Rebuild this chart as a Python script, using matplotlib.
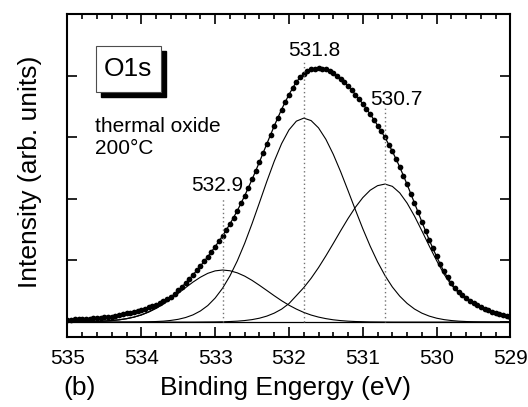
import matplotlib
matplotlib.use('Agg')
import matplotlib.pyplot as plt
import numpy as np
from matplotlib.patches import Rectangle
from matplotlib.ticker import MultipleLocator, FormatStrFormatter

plt.rcParams['font.family'] = ['Liberation Sans', 'DejaVu Sans']

# binding energy grid of the fitted components (535 -> 529 eV, 0.1 eV step)
energy_fit = np.linspace(535.0, 529.0, 61)

comp_5329 = [0.004, 0.005, 0.007, 0.009, 0.012, 0.017, 0.025, 0.037, 0.055, 0.080,
             0.115, 0.162, 0.221, 0.293, 0.376, 0.466, 0.559, 0.649, 0.728, 0.791,
             0.831, 0.845, 0.833, 0.799, 0.746, 0.677, 0.597, 0.513, 0.428, 0.347,
             0.274, 0.211, 0.157, 0.114, 0.081, 0.056, 0.037, 0.024, 0.015, 0.009,
             0.006, 0.003, 0.002, 0.001, 0, 0, 0, 0, 0, 0,
             0, 0, 0, 0, 0, 0, 0, 0, 0, 0, 0]

comp_5318 = [0, 0, 0, 0, 0, 0, 0, 0, 0, 0.001,
             0.002, 0.005, 0.009, 0.015, 0.027, 0.045, 0.074, 0.117, 0.180, 0.268,
             0.390, 0.548, 0.749, 0.993, 1.278, 1.598, 1.938, 2.283, 2.609, 2.896,
             3.119, 3.261, 3.310, 3.270, 3.152, 2.966, 2.723, 2.440, 2.133, 1.820,
             1.515, 1.232, 0.977, 0.756, 0.570, 0.421, 0.303, 0.212, 0.145, 0.097,
             0.063, 0.040, 0.025, 0.015, 0.009, 0.005, 0.003, 0.002, 0.001, 0.001, 0]

comp_5307 = [0, 0, 0, 0, 0, 0, 0, 0, 0, 0,
             0, 0, 0, 0, 0, 0, 0, 0, 0.001, 0.002,
             0.003, 0.005, 0.009, 0.015, 0.025, 0.040, 0.063, 0.097, 0.145, 0.210,
             0.300, 0.429, 0.559, 0.711, 0.884, 1.075, 1.276, 1.482, 1.681, 1.864,
             2.020, 2.140, 2.214, 2.240, 2.203, 2.097, 1.931, 1.720, 1.481, 1.234,
             0.997, 0.777, 0.600, 0.470, 0.380, 0.300, 0.240, 0.180, 0.130, 0.100, 0.070]

# measured spectrum (535 -> 529 eV, 0.05 eV step)
energy_data = np.linspace(535.0, 529.0, 121)
intensity = [0.04, 0.04, 0.045, 0.045, 0.05, 0.05, 0.055, 0.06, 0.065, 0.07,
             0.075, 0.08, 0.09, 0.10, 0.11, 0.125, 0.14, 0.155, 0.17, 0.185,
             0.20, 0.22, 0.24, 0.26, 0.285, 0.31, 0.34, 0.375, 0.41, 0.46,
             0.515, 0.575, 0.64, 0.70, 0.77, 0.84, 0.91, 0.985, 1.06, 1.14,
             1.225, 1.31, 1.40, 1.49, 1.59, 1.695, 1.805, 1.925, 2.05, 2.18,
             2.315, 2.455, 2.60, 2.745, 2.89, 3.04, 3.18, 3.32, 3.45, 3.57,
             3.69, 3.80, 3.90, 3.97, 4.03, 4.07, 4.10, 4.11, 4.12, 4.11,
             4.10, 4.07, 4.04, 3.99, 3.95, 3.89, 3.83, 3.76, 3.69, 3.62,
             3.54, 3.46, 3.375, 3.28, 3.19, 3.10, 3.00, 2.88, 2.77, 2.645,
             2.52, 2.375, 2.235, 2.085, 1.935, 1.78, 1.63, 1.48, 1.335, 1.195,
             1.065, 0.94, 0.825, 0.725, 0.635, 0.56, 0.49, 0.44, 0.39, 0.35,
             0.31, 0.275, 0.245, 0.215, 0.19, 0.165, 0.145, 0.125, 0.11, 0.095, 0.08]

peak_pos = [532.9, 531.8, 530.7]
peak_labels = ['532.9', '531.8', '530.7']
peak_line_top = [2.01, 4.24, 3.50]
label_xy = [(532.97, 2.22), (531.66, 4.41), (530.55, 3.62)]

fig = plt.figure(figsize=(5.28, 4.07), dpi=100)
ax = fig.add_axes([0.1278, 0.1708, 0.8390, 0.7948])

ax.axhline(0, color='black', lw=0.9)
comps = [np.array(c) for c in (comp_5329, comp_5318, comp_5307)]
for c in comps:
    ax.plot(energy_fit, c, color='black', lw=0.8)
ax.plot(energy_fit, comps[0] + comps[1] + comps[2], color='black', lw=0.9)
ax.plot(energy_data, intensity, 'o', color='black', ms=4.1, mew=0)

ax.vlines(peak_pos, 0, peak_line_top, colors='0.45', linestyles=(0, (1, 2)), lw=1)
for lab, (x, y) in zip(peak_labels, label_xy):
    ax.text(x, y, lab, ha='center', va='center', fontsize=15)

ax.set_xlim(535, 529)
ax.set_ylim(-0.25, 5.0)
ax.xaxis.set_major_locator(MultipleLocator(1))
ax.xaxis.set_minor_locator(MultipleLocator(0.2))
ax.xaxis.set_major_formatter(FormatStrFormatter('%d'))
ax.set_yticks([0, 1, 2, 3, 4])
ax.tick_params(which='both', direction='in', top=True, right=True, width=1.2)
ax.tick_params(which='major', length=7)
ax.tick_params(which='minor', length=3.5)
ax.tick_params(axis='x', labelsize=15, pad=8)
ax.tick_params(axis='y', labelleft=False)
for s in ax.spines.values():
    s.set_linewidth(1.5)

ax.text(0.061, 0.618, 'thermal oxide\n200\u00b0C', transform=ax.transAxes,
        fontsize=15, va='center', ha='left', linespacing=1.25)

# O1s box with shadow
W, H = 528.0, 407.0
fig.patches.append(Rectangle((101.2 / W, 1 - 97.2 / H), 65 / W, 46 / H,
                             transform=fig.transFigure, facecolor='black',
                             edgecolor='black', zorder=5))
fig.patches.append(Rectangle((95.7 / W, 1 - 91.7 / H), 65 / W, 46 / H,
                             transform=fig.transFigure, facecolor='white',
                             edgecolor='0.3', lw=0.8, zorder=6))
fig.text(128.2 / W, 1 - 68.7 / H, 'O1s', fontsize=19, ha='center', va='center', zorder=7)

fig.text(30 / W, 1 - 172 / H, 'Intensity (arb. units)', rotation=90,
         fontsize=19, ha='center', va='center')
fig.text(285.5 / W, 1 - 388 / H, 'Binding Engergy (eV)', fontsize=19,
         ha='center', va='center')
fig.text(80 / W, 1 - 388 / H, '(b)', fontsize=19, ha='center', va='center')

fig.savefig('out.png', dpi=100)
